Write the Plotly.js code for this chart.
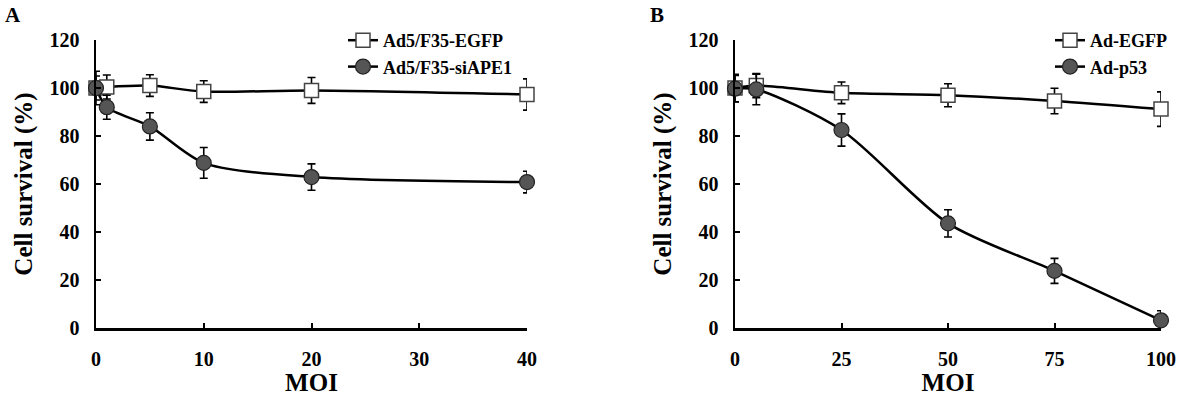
<!DOCTYPE html>
<html>
<head>
<meta charset="utf-8">
<script src="https://cdn.plot.ly/plotly-3.0.1.min.js"></script>
<style>html,body{margin:0;padding:0;background:#fff;}#chart{width:1177px;height:396px;}</style>
</head>
<body>
<div id="chart"></div>
<script>
// Panel A data
const moiA = [0, 1, 5, 10, 20, 40];
const egfpA = [100, 100.4, 101, 98.5, 99, 97.3];
const egfpAErr = [5, 5, 4.5, 4.5, 5.4, 6.5];
const siApe1 = [100, 92, 84, 68.8, 62.9, 60.8];
const siApe1Err = [7, 5, 5.7, 6.4, 5.5, 4.5];
// Panel B data
const moiB = [0, 5, 25, 50, 75, 100];
const egfpB = [100, 101, 98, 97, 94.6, 91.2];
const egfpBErr = [5.7, 5, 4.5, 4.8, 5.3, 7.2];
const p53 = [99.7, 99.4, 82.5, 43.6, 23.8, 3.2];
const p53Err = [5.5, 6.4, 6.7, 5.7, 5.2, 4];
const yTicks = [0, 20, 40, 60, 80, 100, 120];
const xTicksA = [0, 10, 20, 30, 40];
const xTicksB = [0, 25, 50, 75, 100];

const FONT = 'Liberation Serif, Times New Roman, serif';

function sq(x, y, err, name, xa, ya, leg) {
  return {x: x, y: y, name: name, type: 'scatter', mode: 'lines+markers',
    xaxis: xa, yaxis: ya, legend: leg, cliponaxis: false,
    line: {color: '#000', width: 2.5, shape: 'spline', smoothing: 0.8},
    marker: {symbol: 'square', size: 14, color: '#fff', line: {color: '#444', width: 1.5}},
    error_y: {type: 'data', array: err, visible: true, color: '#000', thickness: 1.6, width: 4}};
}
function ci(x, y, err, name, xa, ya, leg) {
  return {x: x, y: y, name: name, type: 'scatter', mode: 'lines+markers',
    xaxis: xa, yaxis: ya, legend: leg, cliponaxis: false,
    line: {color: '#000', width: 2.5, shape: 'spline', smoothing: 0.8},
    marker: {symbol: 'circle', size: 15, color: '#555', line: {color: '#222', width: 1.2}},
    error_y: {type: 'data', array: err, visible: true, color: '#000', thickness: 1.6, width: 4}};
}

const data = [
  sq(moiA, egfpA, egfpAErr, 'Ad5/F35-EGFP', 'x', 'y', 'legend'),
  ci(moiA, siApe1, siApe1Err, 'Ad5/F35-siAPE1', 'x', 'y', 'legend'),
  sq(moiB, egfpB, egfpBErr, 'Ad-EGFP', 'x2', 'y2', 'legend2'),
  ci(moiB, p53, p53Err, 'Ad-p53', 'x2', 'y2', 'legend2')
];

const tickFont = {family: FONT, size: 20, color: '#000', weight: 'bold'};
const titleFont = {family: FONT, size: 25, color: '#000', weight: 'bold'};

function xax(domain, range, ticks, anchor) {
  return {domain: domain, range: range, tickvals: ticks, ticktext: ticks.map(String),
    showline: true, linecolor: '#000', linewidth: 2.5, showgrid: false, zeroline: false,
    ticks: 'inside', ticklen: 5, tickwidth: 2, tickcolor: '#000', anchor: anchor,
    tickfont: tickFont, ticklabelstandoff: 11,
    title: {text: 'MOI', font: titleFont, standoff: 4}, fixedrange: true};
}
function yax(domain, anchor) {
  return {domain: domain, range: [0, 120], tickvals: yTicks, ticktext: yTicks.map(String),
    showline: true, linecolor: '#000', linewidth: 2.5, showgrid: false, zeroline: false,
    ticks: 'inside', ticklen: 5, tickwidth: 2, tickcolor: '#000', anchor: anchor,
    tickfont: tickFont, ticklabelstandoff: 10,
    title: {text: 'Cell survival (%)', font: titleFont, standoff: 10}, fixedrange: true};
}

const W = 1177, H = 396;
const yDom = [1 - 328 / H, 1 - 40 / H];
const legFont = {family: FONT, size: 18, color: '#000', weight: 'bold'};
const layout = {
  width: W, height: H,
  margin: {l: 0, r: 0, t: 0, b: 0},
  paper_bgcolor: '#fff', plot_bgcolor: 'rgba(0,0,0,0)',
  showlegend: true,
  xaxis: xax([96 / W, 527 / W], [0, 40], xTicksA, 'y'),
  yaxis: yax(yDom, 'x'),
  xaxis2: xax([735 / W, 1161 / W], [0, 100], xTicksB, 'y2'),
  yaxis2: yax(yDom, 'x2'),
  legend: {x: 343 / W, y: 1 - 22 / H, xanchor: 'left', yanchor: 'top',
    font: legFont, bgcolor: 'rgba(0,0,0,0)', itemwidth: 30, tracegroupgap: 0},
  legend2: {x: 1050 / W, y: 1 - 22 / H, xanchor: 'left', yanchor: 'top',
    font: legFont, bgcolor: 'rgba(0,0,0,0)', itemwidth: 30, tracegroupgap: 0},
  annotations: [
    {text: 'A', x: 13 / W, y: 1 - 15 / H, xref: 'paper', yref: 'paper', showarrow: false,
     xanchor: 'center', yanchor: 'middle', font: {family: FONT, size: 21, color: '#000', weight: 'bold'}},
    {text: 'B', x: 657 / W, y: 1 - 15 / H, xref: 'paper', yref: 'paper', showarrow: false,
     xanchor: 'center', yanchor: 'middle', font: {family: FONT, size: 21, color: '#000', weight: 'bold'}}
  ]
};

Plotly.newPlot('chart', data, layout, {staticPlot: true, displayModeBar: false});
</script>
</body>
</html>
